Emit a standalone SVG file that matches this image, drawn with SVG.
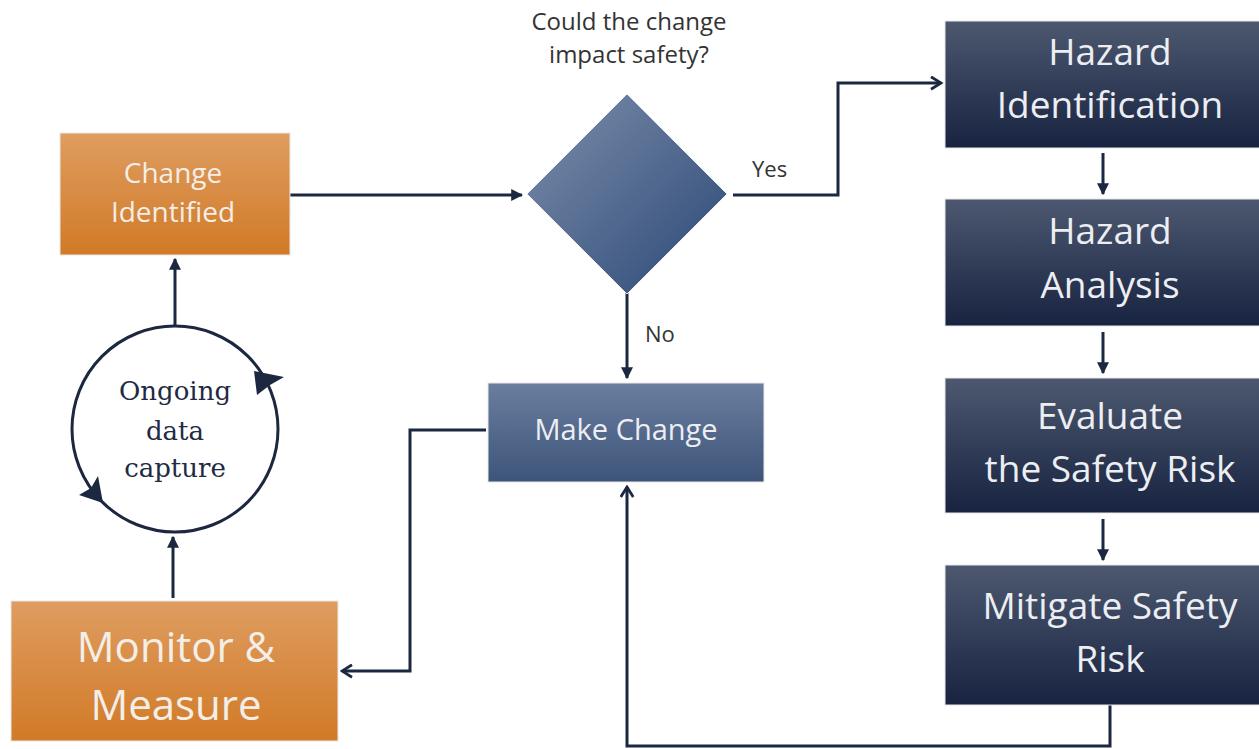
<svg xmlns="http://www.w3.org/2000/svg" width="1259" height="749" viewBox="0 0 1259 749">
<defs>
<linearGradient id="gOrange" x1="0" y1="0" x2="0" y2="1"><stop offset="0" stop-color="#DF9D60"/><stop offset="1" stop-color="#D17A27"/></linearGradient>
<linearGradient id="gNavy" x1="0" y1="0" x2="0" y2="1"><stop offset="0" stop-color="#4D5870"/><stop offset="1" stop-color="#172340"/></linearGradient>
<linearGradient id="gBlue" x1="0" y1="0" x2="0" y2="1"><stop offset="0" stop-color="#6A7E9F"/><stop offset="1" stop-color="#3D5479"/></linearGradient>
<linearGradient id="gDiamond" x1="0" y1="0" x2="1" y2="1"><stop offset="0" stop-color="#7C8EAB"/><stop offset="1" stop-color="#2C4876"/></linearGradient>
<marker id="tri" viewBox="0 0 10 10" refX="9" refY="5" markerWidth="4" markerHeight="4" orient="auto" markerUnits="strokeWidth"><path d="M0,0 L10,5 L0,10 Z" fill="#1C2740"/></marker>
<marker id="open" viewBox="0 0 12 12" refX="10" refY="6" markerWidth="5" markerHeight="5" orient="auto" markerUnits="strokeWidth"><path d="M2,1 L10,6 L2,11" fill="none" stroke="#1C2740" stroke-width="2.2"/></marker>
<style>
.lbl{font-family:"Open Sans","Liberation Sans",sans-serif;fill:#F3EEE8;text-anchor:middle}
.lblw{font-family:"Open Sans","Liberation Sans",sans-serif;fill:#ECEEF2;text-anchor:middle}
.note{font-family:"Open Sans","Liberation Sans",sans-serif;fill:#333333;font-size:22px}
.q{font-size:24px}
.serif{font-family:"DejaVu Serif","Liberation Serif",serif;font-size:26px;fill:#1F2A44;text-anchor:middle}
.con{fill:none;stroke:#1C2740;stroke-width:3}
.box{stroke:#E8E8E8;stroke-width:1}
</style>
</defs>

<g id="connectors">
<path class="con" d="M290,195 L522,195" marker-end="url(#tri)"/>
<path class="con" d="M733,195 L838,195 L838,83 L941,83" marker-end="url(#open)"/>
<path class="con" d="M627,293 L627,378" marker-end="url(#tri)"/>
<path class="con" d="M486,430 L410,430 L410,671 L342,671" marker-end="url(#open)"/>
<path class="con" d="M1110,705 L1110,746 L627,746 L627,487" marker-end="url(#open)"/>
<path class="con" d="M1103,153 L1103,194" marker-end="url(#tri)"/>
<path class="con" d="M1103,332 L1103,373" marker-end="url(#tri)"/>
<path class="con" d="M1103,519 L1103,560" marker-end="url(#tri)"/>
<path class="con" d="M173,598 L173,537" marker-end="url(#tri)"/>
<path class="con" d="M175,325 L175,259" marker-end="url(#tri)"/>
<text class="note" x="752" y="177">Yes</text>
<text class="note" x="645" y="342">No</text>
</g>

<g id="change-identified">
<rect class="box" x="60" y="133" width="230" height="122" fill="url(#gOrange)"/>
<text class="lbl" font-size="28" x="173" y="183">Change</text>
<text class="lbl" font-size="28" x="173" y="222">Identified</text>
</g>

<g id="decision">
<text class="note q" x="629" y="30" text-anchor="middle">Could the change</text>
<text class="note q" x="629" y="63" text-anchor="middle">impact safety?</text>
<polygon points="627,94 727,194 627,294 527,194" fill="url(#gDiamond)" stroke="#E8ECF2" stroke-width="1"/>
</g>

<g id="make-change">
<rect class="box" x="488" y="383" width="276" height="99" fill="url(#gBlue)"/>
<text class="lblw" font-size="29" x="626" y="440">Make Change</text>
</g>

<g id="ongoing">
<circle cx="175" cy="429" r="103" fill="#FFFFFF" stroke="#1C2740" stroke-width="3"/>
<path d="M254,371 L284,377 L270,385 L257,395 Z" fill="#1C2740"/>
<path d="M103,503 L98,476 L91,488 L79,495 Z" fill="#1C2740"/>
<text class="serif" x="175" y="400">Ongoing</text>
<text class="serif" x="175" y="440">data</text>
<text class="serif" x="175" y="477">capture</text>
</g>

<g id="monitor">
<rect class="box" x="11" y="601" width="327" height="140" fill="url(#gOrange)"/>
<text class="lbl" font-size="42" x="176" y="662">Monitor &amp;</text>
<text class="lbl" font-size="42" x="176" y="720">Measure</text>
</g>

<g id="hazard-identification">
<rect class="box" x="945" y="21" width="320" height="127" fill="url(#gNavy)"/>
<text class="lblw" font-size="37" x="1110" y="65">Hazard</text>
<text class="lblw" font-size="37" x="1110" y="118">Identification</text>
</g>

<g id="hazard-analysis">
<rect class="box" x="945" y="199" width="320" height="127" fill="url(#gNavy)"/>
<text class="lblw" font-size="37" x="1110" y="244">Hazard</text>
<text class="lblw" font-size="37" x="1110" y="298">Analysis</text>
</g>

<g id="evaluate">
<rect class="box" x="945" y="378" width="320" height="135" fill="url(#gNavy)"/>
<text class="lblw" font-size="37" x="1110" y="429">Evaluate</text>
<text class="lblw" font-size="37" x="1110" y="482">the Safety Risk</text>
</g>

<g id="mitigate">
<rect class="box" x="945" y="565" width="320" height="140" fill="url(#gNavy)"/>
<text class="lblw" font-size="37" x="1110" y="619">Mitigate Safety</text>
<text class="lblw" font-size="37" x="1110" y="672">Risk</text>
</g>
</svg>
